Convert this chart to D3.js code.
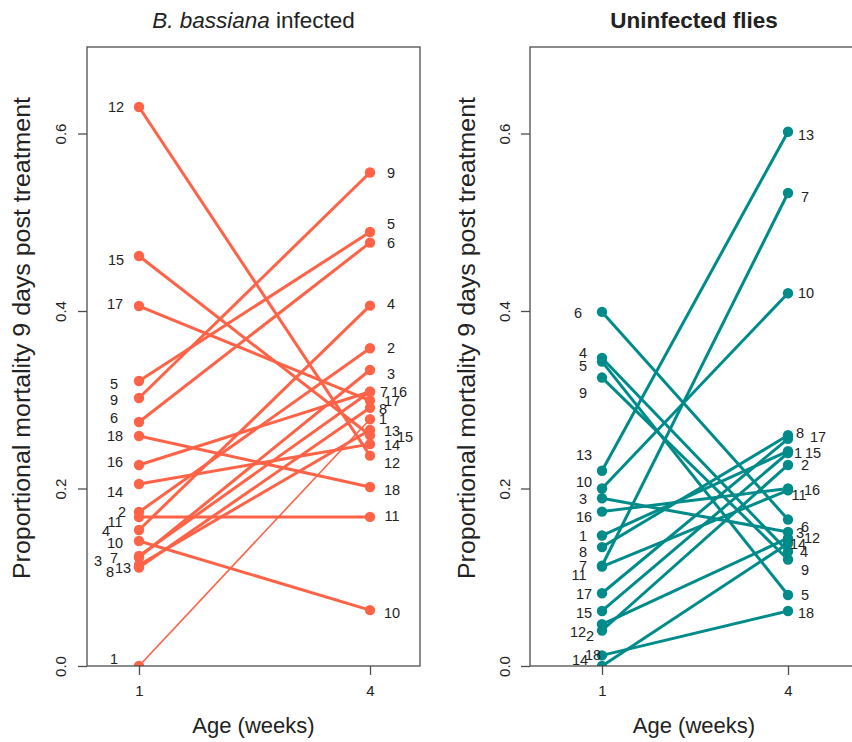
<!DOCTYPE html>
<html>
<head>
<meta charset="utf-8">
<script src="https://cdn.jsdelivr.net/npm/d3@7"></script>
<style>
  html, body { margin: 0; padding: 0; background: #fff; }
  svg { display: block; font-family: "Liberation Sans", Arial, sans-serif; }
</style>
</head>
<body>
<svg id="chart" width="852" height="742"></svg>
<script>
// Line IDs (fly lines / replicates)
const lineIds = [1, 2, 3, 4, 5, 6, 7, 8, 9, 10, 11, 12, 13, 14, 15, 16, 17, 18];
const ages = [1, 4];
const yTicks = [0, 0.2, 0.4, 0.6];

// Proportional mortality 9 days post treatment, B. bassiana infected
const infectedWeek1 = [0.000, 0.1735, 0.1223, 0.1532, 0.3211, 0.2749, 0.1239, 0.1110, 0.3020,
                       0.1408, 0.1679, 0.6299, 0.1138, 0.2051, 0.4620, 0.2265, 0.4056, 0.2592];
const infectedWeek4 = [0.278, 0.358, 0.3335, 0.406, 0.489, 0.477, 0.309, 0.291, 0.556,
                       0.063, 0.168, 0.237, 0.266, 0.250, 0.260, 0.309, 0.299, 0.2017];

// Proportional mortality 9 days post treatment, uninfected flies
const uninfectedWeek1 = [0.147, 0.040, 0.189, 0.347, 0.343, 0.399, 0.113, 0.134, 0.325,
                         0.200, 0.112, 0.047, 0.220, 0.000, 0.062, 0.174, 0.082, 0.012];
const uninfectedWeek4 = [0.242, 0.2265, 0.151, 0.129, 0.080, 0.165, 0.533, 0.260, 0.120,
                         0.420, 0.198, 0.144, 0.602, 0.138, 0.240, 0.200, 0.256, 0.062];

// Small label offsets [dx, dy] in px so overlapping ID labels stay readable
const nudgeInf1 = {12:[1,0],15:[1,4],17:[0,-2],5:[-1,3],9:[-1,2],6:[-1,-4],18:[0,0],16:[0,-3],14:[0,8],
                   2:[7,0],11:[0,5],4:[-9,1],10:[0,2],3:[-17,3],7:[-1,2],8:[-5,4],13:[8,3],1:[-1,-7]};
const nudgeInf4 = {9:[-1,0],5:[-1,-8],6:[-1,0],4:[-1,-2],2:[-1,0],3:[-1,4],7:[-8,0],16:[7,0],17:[0,0],
                   8:[-9,1],1:[-9,0],13:[0,1],15:[13,2],14:[0,1],12:[0,7],18:[0,3],11:[0,-1],10:[0,3]};
const nudgeUn1 = {6:[-5,1],4:[0,-5],5:[0,4],9:[0,15],13:[1,-16],10:[1,-7],3:[0,1],16:[1,5],1:[0,0],
                  8:[0,5],7:[0,0],11:[-4,8],17:[1,1],15:[1,2],12:[-5,7],2:[7,5],18:[10,-1],14:[-3,-6]};
const nudgeUn4 = {13:[1,3],7:[0,4],10:[1,0],8:[-5,-2],17:[13,-2],1:[-7,2],15:[8,0],2:[0,0],11:[-6,5],
                  16:[7,1],6:[0,7],3:[-5,1],12:[7,0],14:[-7,0],4:[-1,0],9:[0,10],5:[0,0],18:[1,2]};

const svg = d3.select("#chart");
const axisCol = "#4d4d4d";
const textCol = "#222";

const y = d3.scaleLinear().domain([0, 0.6]).range([666, 133.5]);

const panels = [
  { box: [87, 420], xr: [139, 370], color: "#FF6347", w1: infectedWeek1, w4: infectedWeek4,
    n1: nudgeInf1, n4: nudgeInf4, lab1: -24, lab4: 22, ylabX: 61, ytitleX: 22, thin: [1],
    title: [{t: "B. bassiana", style: "italic"}, {t: " infected", style: "normal"}], bold: false },
  { box: [530, 858], xr: [602, 788], color: "#008B8B", w1: uninfectedWeek1, w4: uninfectedWeek4,
    n1: nudgeUn1, n4: nudgeUn4, lab1: -19, lab4: 17, ylabX: 505, ytitleX: 467, thin: [],
    title: [{t: "Uninfected flies", style: "normal"}], bold: true }
];

const boxTop = 47, boxBottom = 666;

panels.forEach(p => {
  const x = d3.scaleLinear().domain(ages).range(p.xr);
  const g = svg.append("g");

  // clip to plot region
  const clipId = "clip" + p.box[0];
  svg.append("clipPath").attr("id", clipId).append("rect")
    .attr("x", p.box[0]).attr("y", boxTop).attr("width", p.box[1] - p.box[0]).attr("height", boxBottom - boxTop);

  const plot = g.append("g").attr("clip-path", `url(#${clipId})`);

  const rows = lineIds.map((id, i) => ({ id, a: p.w1[i], b: p.w4[i] }));

  plot.selectAll("line.seg").data(rows).join("line")
    .attr("x1", x(1)).attr("x2", x(4))
    .attr("y1", d => y(d.a)).attr("y2", d => y(d.b))
    .attr("stroke", p.color)
    .attr("stroke-width", d => p.thin.includes(d.id) ? 1.6 : 3);

  const pts = rows.flatMap(d => [{ id: d.id, age: 1, v: d.a }, { id: d.id, age: 4, v: d.b }]);
  plot.selectAll("circle").data(pts).join("circle")
    .attr("cx", d => x(d.age)).attr("cy", d => y(d.v)).attr("r", 5.2)
    .attr("fill", p.color);

  // ID labels beside each point
  g.selectAll("text.lab").data(pts).join("text")
    .attr("class", "lab")
    .attr("x", d => x(d.age) + (d.age === 1 ? p.lab1 : p.lab4) + ((d.age === 1 ? p.n1 : p.n4)[d.id] || [0, 0])[0])
    .attr("y", d => y(d.v) + ((d.age === 1 ? p.n1 : p.n4)[d.id] || [0, 0])[1])
    .attr("dy", "0.36em")
    .attr("text-anchor", "middle")
    .attr("font-size", 14.5)
    .attr("fill", textCol)
    .text(d => d.id);

  // frame
  g.append("rect")
    .attr("x", p.box[0]).attr("y", boxTop)
    .attr("width", p.box[1] - p.box[0]).attr("height", boxBottom - boxTop)
    .attr("fill", "none").attr("stroke", axisCol).attr("stroke-width", 1.3);

  // x axis
  const xAxis = d3.axisBottom(x).tickValues(ages).tickSize(9).tickPadding(10).tickFormat(d3.format("d"));
  const xa = g.append("g").attr("transform", `translate(0,${boxBottom})`).call(xAxis);
  xa.select(".domain").remove();
  xa.selectAll("line").attr("stroke", axisCol).attr("stroke-width", 1.3);
  xa.selectAll("text").attr("font-size", 15).attr("fill", textCol)
    .attr("font-family", "'Liberation Sans', Arial, sans-serif");

  // y axis
  const yAxis = d3.axisLeft(y).tickValues(yTicks).tickSize(9).tickFormat(d3.format(".1f"));
  const ya = g.append("g").attr("transform", `translate(${p.box[0]},0)`).call(yAxis);
  ya.select(".domain").remove();
  ya.selectAll("line").attr("stroke", axisCol).attr("stroke-width", 1.3);
  ya.selectAll("text")
    .attr("font-size", 15).attr("fill", textCol)
    .attr("font-family", "'Liberation Sans', Arial, sans-serif")
    .attr("text-anchor", "middle")
    .attr("x", null)
    .attr("transform", `translate(${p.ylabX - p.box[0]},0) rotate(-90)`)
    .attr("y", 0)
    .attr("dy", "0.36em");

  // axis titles
  g.append("text")
    .attr("x", (p.box[0] + p.box[1]) / 2).attr("y", 733)
    .attr("text-anchor", "middle").attr("font-size", 22).attr("fill", textCol)
    .text("Age (weeks)");

  g.append("text")
    .attr("transform", `translate(${p.ytitleX},338) rotate(-90)`)
    .attr("dy", "0.36em")
    .attr("text-anchor", "middle").attr("font-size", 23).attr("fill", textCol)
    .attr("textLength", 482).attr("lengthAdjust", "spacingAndGlyphs")
    .text("Proportional mortality 9 days post treatment");

  // panel title
  const tt = g.append("text")
    .attr("x", (p.box[0] + p.box[1]) / 2).attr("y", 28)
    .attr("text-anchor", "middle").attr("font-size", 22.5).attr("fill", textCol)
    .attr("font-weight", p.bold ? "bold" : "normal");
  p.title.forEach(s => tt.append("tspan").attr("font-style", s.style).text(s.t));
});
</script>
</body>
</html>
